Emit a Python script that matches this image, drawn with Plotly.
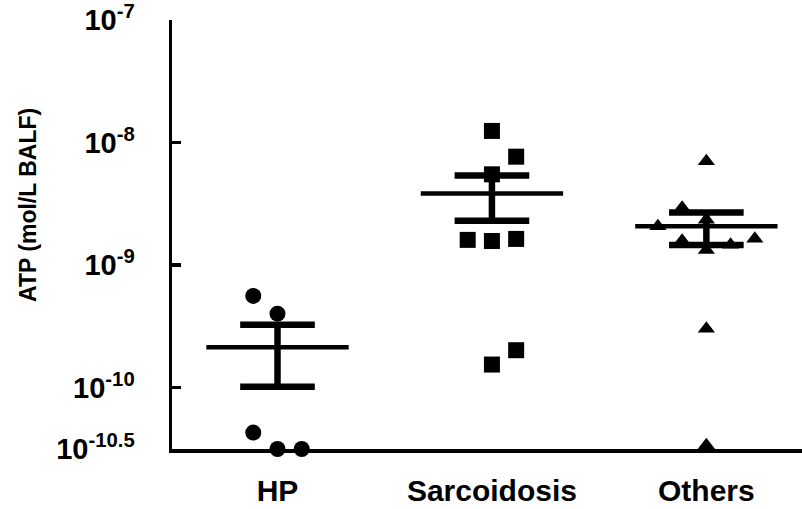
import numpy as np
import plotly.graph_objects as go

# ---- data (log10 of ATP, mol/L BALF) ----
categories = ["HP", "Sarcoidosis", "Others"]

hp_log = [-9.251, -9.396, -10.366, -10.5, -10.5]
hp_jitter = [-0.113, 0.0, -0.113, 0.0, 0.113]

sarc_log = [-7.905, -8.115, -8.259, -8.794, -8.803, -8.786, -9.694, -9.811]
sarc_jitter = [0.0, 0.113, 0.0, -0.113, 0.0, 0.113, 0.113, 0.0]

oth_log = [-8.153, -8.531, -8.683, -8.629, -8.80, -8.876, -8.833, -8.784, -9.518, -10.47]
oth_jitter = [0.0, -0.113, -0.226, 0.0, -0.113, 0.0, 0.113, 0.226, 0.0, 0.0]

tick_vals = [-7, -8, -9, -10, -10.5]
tick_text = ["10<sup>-7</sup>", "10<sup>-8</sup>", "10<sup>-9</sup>",
             "10<sup>-10</sup>", "10<sup>-10.5</sup>"]

groups = [
    (hp_log, hp_jitter, "circle", 16),
    (sarc_log, sarc_jitter, "square", 16),
    (oth_log, oth_jitter, "triangle-up", 15),
]

FONT = "Liberation Sans, Arial, Helvetica, sans-serif"
fig = go.Figure()

for i, (vals, jit, sym, sz) in enumerate(groups):
    lin = 10 ** np.array(vals)
    mean = lin.mean()
    sem = lin.std(ddof=1) / np.sqrt(len(lin))
    m, up, lo = np.log10(mean), np.log10(mean + sem), np.log10(mean - sem)
    # markers
    fig.add_trace(go.Scatter(
        x=[i + j for j in jit], y=vals, mode="markers",
        marker=dict(symbol=sym, size=sz, color="black", line=dict(width=0)),
        cliponaxis=False, showlegend=False, hoverinfo="skip"))
    # mean line
    fig.add_trace(go.Scatter(x=[i - 0.332, i + 0.332], y=[m, m], mode="lines",
                             line=dict(color="black", width=4.5),
                             showlegend=False, hoverinfo="skip"))
    # SEM caps
    for v in (up, lo):
        fig.add_trace(go.Scatter(x=[i - 0.174, i + 0.174], y=[v, v], mode="lines",
                                 line=dict(color="black", width=6.5),
                                 showlegend=False, hoverinfo="skip"))
    # SEM stem
    fig.add_trace(go.Scatter(x=[i, i], y=[lo, up], mode="lines",
                             line=dict(color="black", width=6.5),
                             showlegend=False, hoverinfo="skip"))

fig.update_layout(
    width=802, height=509,
    margin=dict(l=172, r=0, t=20, b=60),
    paper_bgcolor="white", plot_bgcolor="white",
    font=dict(family=FONT, color="black", weight="bold"),
    xaxis=dict(
        range=[-0.492, 2.446], tickvals=[0, 1, 2], ticktext=categories,
        showline=True, linecolor="black", linewidth=3.5, ticks="",
        showgrid=False, zeroline=False, tickfont=dict(size=30, family=FONT, weight="bold"),
        ticklabelstandoff=12, ticklabeloverflow="allow", fixedrange=True),
    yaxis=dict(
        range=[-10.5, -7], tickvals=tick_vals, ticktext=tick_text,
        showline=True, linecolor="black", linewidth=3.5,
        ticks="inside", ticklen=9, tickwidth=3.5, tickcolor="black",
        showgrid=False, zeroline=False, tickfont=dict(size=29, family=FONT, weight="bold"),
        ticklabelstandoff=28, ticklabeloverflow="allow", fixedrange=True),
    annotations=[dict(
        text="ATP (mol/L BALF)", xref="paper", yref="paper",
        x=(28 - 172) / 630, y=(449 - 205) / 429, xanchor="center", yanchor="middle",
        textangle=-90, showarrow=False,
        font=dict(size=23, family=FONT, weight="bold", color="black"))],
)

fig.write_html("out.html", config={"displayModeBar": False, "staticPlot": True},
               post_script="document.body.style.margin='0';document.body.style.overflow='hidden';")
